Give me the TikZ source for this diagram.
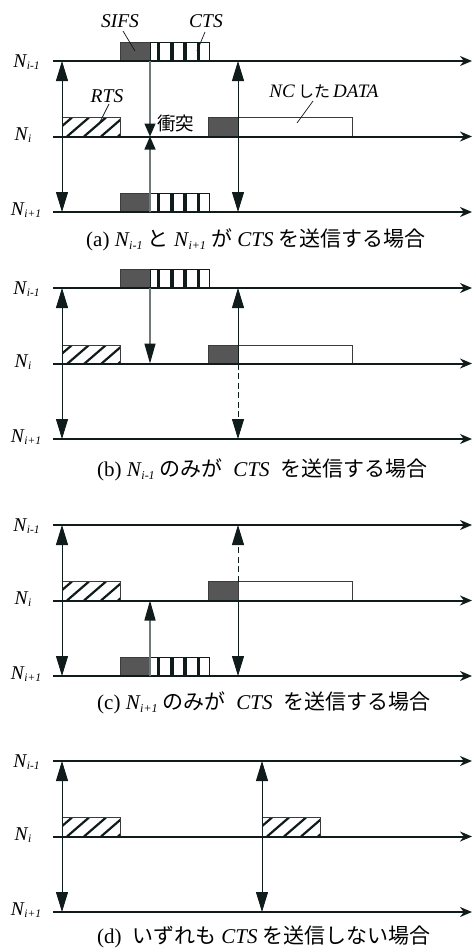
\documentclass[tikz,border=0pt]{standalone}
\usepackage{fontspec}
\setmainfont{Liberation Serif}
\newfontfamily\jp{Noto Sans CJK JP}
\usetikzlibrary{arrows.meta}
\definecolor{lc}{RGB}{16,28,28}
\definecolor{gc}{RGB}{112,120,120}
\definecolor{df}{RGB}{86,86,86}
\definecolor{bc}{RGB}{60,60,60}
\newcommand{\Nlab}[1]{\textit{N}\kern-0.5pt\raisebox{-0.12em}{\fontsize{11.5}{12}\selectfont\textit{#1}}}
\newcommand{\Ncap}[1]{\textit{N}\kern-0.5pt\raisebox{-0.12em}{\fontsize{12}{13}\selectfont\textit{#1}}}
\tikzset{
  tline/.style={line width=2pt, draw=lc, -{Stealth[length=12pt,width=10pt,color=lc]}},
  darr/.style={line width=1pt, draw=lc, {Triangle[length=20pt,width=12pt,color=lc]}-{Triangle[length=20pt,width=12pt,color=lc]}},
  sarr/.style={line width=1pt, draw=lc, -{Triangle[length=20pt,width=12pt,color=lc]}},
  dsarr/.style={line width=1pt, draw=lc, dash pattern=on 6pt off 3.5pt, -{Triangle[length=20pt,width=12pt,color=lc]}},
  garr/.style={line width=1.3pt, draw=gc, -{Triangle[length=20pt,width=11pt,color=lc]}},
  sgarr/.style={line width=1.3pt, draw=gc, -{Triangle[length=13pt,width=11pt,color=lc]}},
  darkbox/.style={draw=bc, line width=0.8pt, fill=df},
  whitebox/.style={draw=bc, line width=0.8pt, fill=white},
  lead/.style={draw=lc, line width=0.7pt},
  nlab/.style={font=\fontsize{19.5}{20}\selectfont, anchor=base, inner sep=0pt},
  tlab/.style={font=\fontsize{19.5}{20}\selectfont\itshape, inner sep=0pt},
  captext/.style={font=\fontsize{21}{22}\selectfont, anchor=west, inner sep=0pt}
}
% time lines, labels and left double arrow; #1 prefix, #2 top y
\newcommand{\tlines}[2]{%
  \coordinate (#1a0) at (53,#2);       \coordinate (#1a1) at (472,#2);
  \coordinate (#1b0) at (53,#2+75.5);  \coordinate (#1b1) at (472,#2+75.5);
  \coordinate (#1c0) at (53,#2+151);   \coordinate (#1c1) at (472,#2+151);
  \draw[tline] (#1a0) -- (#1a1);
  \draw[tline] (#1b0) -- (#1b1);
  \draw[tline] (#1c0) -- (#1c1);
  \node[nlab] (#1na) at (26.5,#2+6) {\Nlab{i-1}};
  \node[nlab] (#1nb) at (23,#2+75.5+4) {\Nlab{i}};
  \node[nlab] (#1nc) at (26,#2+151+3.5) {\Nlab{i+1}};
  \coordinate (#1L0) at (62,#2); \coordinate (#1L1) at (62,#2+151);
  \draw[darr] (#1L0) -- (#1L1);
}
% SIFS + CTS block standing on line y=#1
\newcommand{\sifscts}[1]{%
  \draw[darkbox] (120.5,#1-19) rectangle (150,#1);
  \fill[white] (150,#1-19) rectangle (209,#1);
  \foreach \xb in {157,170.2,183.4,196.8} \fill[lc] (\xb,#1-19) rectangle (\xb+3.4,#1);
  \draw[draw=lc, line width=0.8pt] (150,#1-19) rectangle (209,#1);
}
% RTS hatched block: #1 x left, #2 line y
\newcommand{\rtsbox}[2]{%
  \fill[white] (#1,#2-19) rectangle (#1+58.5,#2);
  \begin{scope}
    \clip (#1,#2-19) rectangle (#1+58.5,#2);
    \foreach \k in {0,...,4} \draw[line width=2.2pt, lc] (#1-12+\k*17,#2) -- ++(22,-19);
  \end{scope}
  \draw[draw=bc, line width=0.8pt] (#1,#2-19) rectangle (#1+58.5,#2);
}
% NC DATA block on line y=#1
\newcommand{\databox}[1]{%
  \draw[darkbox] (208,#1-19) rectangle (238,#1);
  \draw[whitebox] (238,#1-19) rectangle (352,#1);
}
\begin{document}
\begin{tikzpicture}[x=1pt,y=-1pt]
\useasboundingbox[fill=white] (0,0) rectangle (472,951);

% ---------------- (a) ----------------
\sifscts{61}
\sifscts{212}
\rtsbox{62}{136.5}
\databox{136.5}
\tlines{A}{61}
\coordinate (Ag0) at (150,61); \coordinate (Agm) at (150,136.5); \coordinate (Ag1) at (150,212);
\draw[sgarr] (Ag0) -- (Agm);
\draw[sgarr] (Ag1) -- (Agm);
\coordinate (AR0) at (238,61); \coordinate (AR1) at (238,212);
\draw[darr] (AR0) -- (AR1);
\node[font=\jp\fontsize{18.5}{19}\selectfont, anchor=west, inner sep=0pt] (Acol) at (157,123.5) {衝突};
\node[tlab] (Asifs) at (120,21) {SIFS};
\node[tlab] (Acts) at (206,21.5) {CTS};
\node[tlab] (Arts) at (107,96) {RTS};
\node[font=\fontsize{19}{20}\selectfont, inner sep=0pt] (Adata) at (324,92) {\textit{NC}\,{\jp\fontsize{16}{16}\selectfont した}\,\textit{DATA}};
\coordinate (As1) at (123,31); \coordinate (As2) at (135,51);
\draw[lead] (As1) -- (As2);
\coordinate (Ac1) at (205,32); \coordinate (Ac2) at (197,51);
\draw[lead] (Ac1) -- (Ac2);
\coordinate (Ar1) at (109,104); \coordinate (Ar2) at (100,122);
\draw[lead] (Ar1) -- (Ar2);
\coordinate (Ad1) at (313,101); \coordinate (Ad2) at (297,123);
\draw[lead] (Ad1) -- (Ad2);
\node[captext] (Acap) at (86,240) {(a) \Ncap{i-1} {\jp と} \Ncap{i+1} {\jp が} \textit{CTS} {\jp を送信する場合}};

% ---------------- (b) ----------------
\sifscts{288}
\rtsbox{62}{364}
\databox{364}
\tlines{B}{288}
\coordinate (Bg0) at (150,288); \coordinate (Bgm) at (150,363.5);
\draw[garr] (Bg0) -- (Bgm);
\coordinate (BR0) at (238,288); \coordinate (BRm) at (238,363.5); \coordinate (BR1) at (238,439);
\draw[sarr] (BRm) -- (BR0);
\draw[dsarr] (BRm) -- (BR1);
\node[captext] (Bcap) at (97,470) {(b) \Ncap{i-1} {\jp のみが}\ \ \textit{CTS}\ \ {\jp を送信する場合}};

% ---------------- (c) ----------------
\sifscts{676}
\rtsbox{62}{600.5}
\databox{600.5}
\tlines{C}{525}
\coordinate (Cg1) at (150,676); \coordinate (Cgm) at (150,600.5);
\draw[garr] (Cg1) -- (Cgm);
\coordinate (CR0) at (238,525); \coordinate (CRm) at (238,600.5); \coordinate (CRt) at (238,581.5); \coordinate (CR1) at (238,676);
\draw[dsarr] (CRt) -- (CR0);
\draw[sarr] (CRm) -- (CR1);
\node[captext] (Ccap) at (97,703) {(c) \Ncap{i+1} {\jp のみが}\ \ \textit{CTS}\ \ {\jp を送信する場合}};

% ---------------- (d) ----------------
\rtsbox{62}{836.5}
\rtsbox{262}{836.5}
\tlines{D}{761}
\coordinate (DR0) at (262,761); \coordinate (DR1) at (262,912);
\draw[darr] (DR0) -- (DR1);
\node[captext] (Dcap) at (97,937) {(d)\ \ {\jp いずれも} \textit{CTS} {\jp を送信しない場合}};
\end{tikzpicture}
\end{document}
